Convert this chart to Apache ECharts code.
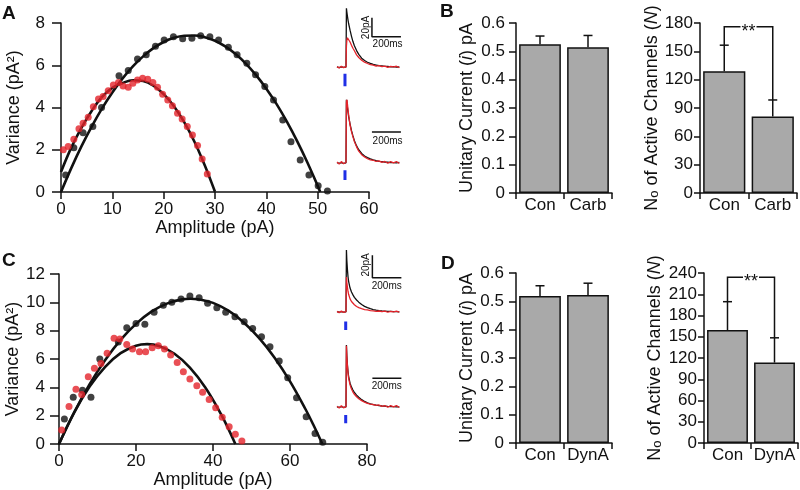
<!DOCTYPE html>
<html><head><meta charset="utf-8">
<script src="https://cdn.jsdelivr.net/npm/echarts@6/dist/echarts.min.js"></script>
<style>html,body{margin:0;padding:0;background:#fff}#c{width:800px;height:490px}</style>
</head><body><div id="c"></div>
<script>
const FONT = 'Liberation Sans, Arial, sans-serif';
// ---------- Panel A : variance vs amplitude ----------
const aCtrlPts = [[0.9,0.8],[2.5,2.1],[4.3,2.8],[6.2,3.1],[7.9,4.0],[11.3,5.5],[13.1,5.75],[14.9,6.3],[16.6,6.5],[18.4,6.9],[20.1,7.2],[21.9,7.35],[23.7,7.25],[25.5,7.28],[27.2,7.4],[29.0,7.35],[30.7,7.2],[32.6,6.85],[34.3,6.5],[36.2,6.1],[37.9,5.55],[39.7,4.99],[41.4,4.36],[43.2,3.41],[44.8,2.38],[46.6,1.52],[48.3,0.8],[50.1,0.3],[51.9,0.05]];
const aDrugPts = [[0.45,2.0],[1.4,2.15],[2.5,2.5],[3.5,3.0],[4.3,3.25],[5.3,3.54],[6.3,4.04],[7.3,4.4],[8.2,4.52],[9.2,4.79],[10.2,5.07],[11.2,5.18],[12.1,5.02],[13.1,4.96],[14.0,5.15],[14.9,5.3],[15.9,5.39],[16.9,5.34],[17.9,5.18],[18.8,4.96],[19.8,4.63],[20.8,4.36],[21.7,4.08],[22.7,3.73],[23.6,3.45],[24.6,3.1],[25.6,2.7],[26.6,2.2],[27.5,1.56],[28.5,0.85]];
const aCtrlFit = [[0,0],[2,1.13],[4,2.17],[6,3.11],[8,3.96],[10,4.71],[12,5.38],[14,5.95],[16,6.42],[18,6.81],[20,7.10],[22,7.30],[24,7.40],[26,7.41],[28,7.33],[30,7.16],[32,6.89],[34,6.53],[36,6.08],[38,5.53],[40,4.89],[42,4.16],[44,3.33],[46,2.41],[48,1.40],[50,0.29],[50.5,0]];
const aDrugFit = [[0,0.95],[2,2.1],[4,3.05],[6,3.85],[8,4.5],[10,4.93],[12,5.16],[14,5.29],[16,5.25],[18,5.03],[20,4.63],[22,4.06],[24,3.31],[26,2.38],[28,1.27],[29,0.65],[30,0.01]];
// ---------- Panel C ----------
const cCtrlPts = [[1.4,1.76],[3.7,3.3],[6.1,3.8],[8.3,3.3],[10.6,6.0],[15.4,7.2],[17.6,8.2],[20.0,8.5],[22.3,8.45],[24.7,9.3],[27.1,9.8],[29.3,10.0],[31.7,10.23],[34.0,10.44],[36.4,10.33],[38.6,9.93],[41.0,9.62],[43.3,9.3],[45.7,8.98],[48.1,8.63],[50.3,8.16],[52.6,7.57],[54.8,6.87],[57.2,5.86],[59.4,4.68],[61.7,3.27],[64.2,1.93],[66.5,0.75],[68.5,0.12]];
const cDrugPts = [[0.7,0.99],[2.6,2.64],[4.4,3.86],[5.9,3.5],[7.6,4.75],[9.2,5.34],[10.9,5.69],[12.5,6.4],[14.3,7.46],[15.8,7.41],[17.6,7.03],[19.1,6.7],[20.9,6.52],[22.5,6.52],[24.2,6.8],[25.8,6.94],[27.4,6.7],[29.0,6.28],[30.7,5.76],[32.3,5.1],[34.0,4.59],[35.8,4.12],[37.3,3.65],[39.0,3.15],[40.7,2.56],[42.4,1.88],[44.2,1.22],[45.8,0.68],[47.5,0.21]];
const cCtrlFit = [[0,0],[4,2.26],[8,4.24],[12,5.93],[16,7.35],[20,8.48],[24,9.34],[28,9.91],[32,10.21],[34.2,10.25],[36,10.22],[40,9.96],[44,9.41],[48,8.58],[52,7.47],[56,6.09],[60,4.42],[64,2.47],[66,1.39],[68.4,0]];
const cDrugFit = [[0,0],[4,2.25],[8,4.07],[12,5.45],[16,6.41],[20,6.94],[22.9,7.05],[26,6.92],[30,6.37],[34,5.39],[38,3.99],[42,2.15],[44,1.07],[45.8,0]];
// ---------- Current traces (ms, pA) ----------
const traceT  = [0,15,30,45,55,62,65,68,72,76,80,90,100,110,120,135,150,170,190,210,230,250,270,290,310,330,350,370,390,410,430];
const aTopCtrl = [0.3,-0.5,0.4,-0.3,0.5,0.2,62,58,53.5,49.5,46,39,32.5,27,22.5,17.5,13.5,9.5,7,5.2,4,3,2.3,1.6,1.3,0.9,0.8,0.4,0.5,0.1,0.2];
const aTopDrug = [0.6,-0.8,0.9,-0.5,0.7,0.3,22,28.5,31,30.5,29.5,26.5,23,20,17.3,13,10.2,7.4,5.3,3.9,2.6,2.2,1.1,1.7,0.6,1.2,-0.2,0.9,0.3,1.0,-0.4];
const aBotCtrl = [0.4,-0.3,0.5,-0.4,0.3,0.2,69,64,58.5,53.5,49,41,34,28.5,23.5,18,14,10,7.4,5.6,4.3,3.3,2.5,1.8,1.4,1.0,0.8,0.5,0.4,0.2,0.6];
const aBotDrug = [1.0,-1.2,1.5,-0.8,1.1,0.5,64,68.5,62,56,51,40,33,27.5,22.5,17,12.5,8.8,6.4,4.5,3.2,2.9,1.6,2.2,0.6,1.6,-0.3,1.4,0.2,1.6,-0.5];
const cTopCtrl = [0.2,-0.3,0.3,-0.2,0.3,0.1,54.6,45,37,31,27,21,17.5,15,12.8,10.5,8.6,6.5,4.9,3.7,2.8,2.1,1.6,1.2,0.9,0.7,0.5,0.4,0.3,0.2,0.1];
const cTopDrug = [0.5,-0.6,0.7,-0.4,0.6,0.3,30.8,26,21.5,18,15.5,11.5,9.2,7.6,6.3,4.8,3.8,2.9,2.1,1.7,1.1,1.0,0.5,0.8,0.2,0.6,-0.3,0.5,0.1,0.6,-0.2];
const cBotCtrl = [0.2,-0.4,0.3,-0.3,0.4,0.1,54.6,45,37,31,27,21,17.5,15,12.8,10.5,8.6,6.5,4.9,3.7,2.8,2.1,1.6,1.2,0.9,0.7,0.5,0.4,0.3,0.2,0.1];
const cBotDrug = [0.8,-1.0,1.1,-0.7,0.9,0.4,54,44,36,30,25.5,19.5,15.8,13.2,11.2,9.0,7.3,5.6,4.3,3.2,2.6,2.2,1.4,1.8,0.6,1.3,-0.2,1.2,0.1,1.3,-0.4];
const scaleMs = 200, scalePA = 20;
// ---------- Bar panels ----------
const catB = ['Con','Carb'];
const catD = ['Con','DynA'];
const uniMeanB = [0.525, 0.514], uniErrB = [0.029, 0.042];
const nMeanB = [129, 81], nErrB = [27.5, 17.5], bracketB = 176;
const uniMeanD = [0.519, 0.522], uniErrD = [0.036, 0.042];
const nMeanD = [159.5, 113.5], nErrD = [40, 35], bracketD = 234;

const INK = '#111', RED = '#e4232a', BLUE = '#1f2fe6', GRAY = '#a9a9a9';
const lineSt = {color: INK, width: 1.5};
const tickFont = {color: INK, fontSize: 17, fontFamily: FONT};
const nameFont = {color: INK, fontSize: 18, fontFamily: FONT};

function g(left, top, width, height){ return {left, top, width, height, containLabel:false, outerBoundsMode:'none'}; }
const grids = [
  g(61,23,308,169), g(337,4.5,65.25,85.5), g(337,100.3,65.25,85.5),
  g(516,23,96,170), g(700,23,97,170),
  g(59,274,308,170), g(337,237,65.25,102.15), g(337,332.1,65.25,102.15),
  g(516,273,96,170), g(704,273,94,170)
];
function valX(gi, max, interval, name, gap){
  return {gridIndex:gi, type:'value', min:0, max, interval,
    axisLine:{show:true, onZero:false, lineStyle:lineSt}, axisTick:{show:true, length:7, lineStyle:lineSt},
    axisLabel:Object.assign({margin:9}, tickFont), splitLine:{show:false},
    name, nameLocation:'middle', nameGap:gap, nameTextStyle:nameFont};
}
function valY(gi, max, interval, name, gap, margin, tick, fmt, rich){
  const o = {gridIndex:gi, type:'value', min:0, max, interval,
    axisLine:{show:true, onZero:false, lineStyle:lineSt}, axisTick:{show:true, length:tick, lineStyle:lineSt},
    axisLabel:Object.assign({margin}, tickFont), splitLine:{show:false},
    name, nameLocation:'middle', nameGap:gap, nameRotate:90, nameTextStyle:Object.assign({}, nameFont)};
  if (fmt) o.axisLabel.formatter = fmt;
  if (rich) o.nameTextStyle.rich = rich;
  return o;
}
function catX(gi, data){
  return {gridIndex:gi, type:'category', data, boundaryGap:true,
    axisLine:{show:true, lineStyle:lineSt}, axisTick:{show:true, length:6, lineStyle:lineSt, alignWithLabel:false, interval:0},
    axisLabel:Object.assign({margin:4, interval:0, hideOverlap:false}, tickFont), splitLine:{show:false}};
}
function hidX(gi){ return {gridIndex:gi, type:'value', min:0, max:450, show:false}; }
function hidY(gi){ return {gridIndex:gi, type:'value', min:-24, max:66, show:false}; }
const dec1 = v => v === 0 ? '0' : v.toFixed(1);
const richUni = {n:{fontSize:18, fontFamily:FONT, color:INK}, it:{fontSize:18, fontFamily:FONT, fontStyle:'italic', color:INK}};
const richN = {n:{fontSize:18, fontFamily:FONT, color:INK}, o:{fontSize:13, fontFamily:FONT, color:INK, verticalAlign:'bottom'}, it:{fontSize:18, fontFamily:FONT, fontStyle:'italic', color:INK}};
const uniName = '{n|Unitary Current (}{it|i}{n|) pA}';
const nName = '{n|N}{o|o}{n| of Active Channels (}{it|N}{n|)}';

const xAxes = [
  valX(0,60,10,'Amplitude (pA)',26), hidX(1), hidX(2), catX(3,catB), catX(4,catB),
  valX(5,80,20,'Amplitude (pA)',27), hidX(6), hidX(7), catX(8,catD), catX(9,catD)
];
const yAxes = [
  valY(0,8,2,'Variance (pA²)',38,16,9), hidY(1), hidY(2),
  valY(3,0.6,0.1,uniName,40,11,7,dec1,richUni), valY(4,180,30,nName,36,7,6,null,richN),
  valY(5,12,2,'Variance (pA²)',35,14,9), hidY(6), hidY(7),
  valY(8,0.6,0.1,uniName,40,12,7,dec1,richUni), valY(9,240,30,nName,40,7,6,null,richN)
];

const series = [];
function fit(gi, data){ series.push({type:'line', xAxisIndex:gi, yAxisIndex:gi, data, smooth:0.4, showSymbol:false, lineStyle:{color:INK, width:2.6}, z:2}); }
function pts(gi, data, color){ series.push({type:'scatter', xAxisIndex:gi, yAxisIndex:gi, data, symbolSize:7, itemStyle:{color}, z:3}); }
fit(0,aCtrlFit); fit(0,aDrugFit); pts(0,aCtrlPts,INK); pts(0,aDrugPts,RED);
fit(5,cCtrlFit); fit(5,cDrugFit); pts(5,cCtrlPts,INK); pts(5,cDrugPts,RED);

function trace(gi, arr, color){
  series.push({type:'line', xAxisIndex:gi, yAxisIndex:gi, data:traceT.map((t,i)=>[t,arr[i]]), showSymbol:false, lineStyle:{color, width:1.3}});
}
function seg(gi, data, color, width){ series.push({type:'line', xAxisIndex:gi, yAxisIndex:gi, data, showSymbol:false, lineStyle:{color, width}, z:4}); }
function txt(gi, pos, text, rot){
  series.push({type:'custom', xAxisIndex:gi, yAxisIndex:gi, data:[pos], z:5,
    renderItem:(p, api)=>{ const c = api.coord([api.value(0), api.value(1)]);
      return {type:'text', x:c[0], y:c[1], rotation: rot ? Math.PI/2 : 0,
        style:{text, fontSize:10, fontFamily:FONT, fill:INK, align:'center', verticalAlign:'middle'}}; }});
}
// A traces
trace(1,aTopCtrl,INK); trace(1,aTopDrug,RED);
seg(1,[[55,-7],[55,-20]],BLUE,3);
seg(1,[[241,32+scalePA],[241,32],[241+scaleMs,32]],INK,1.5);
txt(1,[200,41.8],'20pA',true); txt(1,[349,24.1],'200ms',false);
trace(2,aBotCtrl,INK); trace(2,aBotDrug,RED);
seg(2,[[55,-7.5],[55,-18]],BLUE,3);
seg(2,[[241,32.6],[241+scaleMs,32.6]],INK,1.5);
txt(2,[349,22.4],'200ms',false);
// C traces
trace(6,cTopCtrl,INK); trace(6,cTopDrug,RED);
seg(6,[[60,-8.5],[60,-16]],BLUE,3);
seg(6,[[244,30+scalePA],[244,30],[244+scaleMs,30]],INK,1.5);
txt(6,[200,41.4],'20pA',true); txt(6,[343,22.9],'200ms',false);
trace(7,cBotCtrl,INK); trace(7,cBotDrug,RED);
seg(7,[[60,-7],[60,-14.4]],BLUE,3);
seg(7,[[244,25.3],[244+scaleMs,25.3]],INK,1.5);
txt(7,[343,17.9],'200ms',false);

// bars
function errRender(p, api){
  const x = api.value(0), m = api.value(1), e = api.value(2);
  const a = api.coord([x,m]), b = api.coord([x,m+e]);
  const st = {stroke:INK, lineWidth:1.5};
  return {type:'group', children:[
    {type:'line', shape:{x1:a[0],y1:a[1],x2:b[0],y2:b[1]}, style:st},
    {type:'line', shape:{x1:b[0]-4.5,y1:b[1],x2:b[0]+4.5,y2:b[1]}, style:st}]};
}
function bracketRender(means, errs){
  return function(p, api){
    const yb = api.value(1);
    const a = api.coord([0, means[0]+errs[0]]), b = api.coord([1, means[1]+errs[1]]);
    const t = api.coord([0, yb])[1];
    return {type:'group', children:[
      {type:'polyline', shape:{points:[[a[0],a[1]],[a[0],t],[b[0],t],[b[0],b[1]]]}, style:{stroke:INK, lineWidth:1.5, fill:null}},
      {type:'text', x:(a[0]+b[0])/2, y:t+5, style:{text:'**', fontSize:18, fontFamily:FONT, fill:INK, align:'center', verticalAlign:'middle', backgroundColor:'#fff', padding:[0,1]}}]};
  };
}
function bars(gi, means, errs, yb){
  series.push({type:'bar', xAxisIndex:gi, yAxisIndex:gi, data:means, barWidth:'87%',
    itemStyle:{color:GRAY, borderColor:INK, borderWidth:1.5}, z:2});
  series.push({type:'custom', xAxisIndex:gi, yAxisIndex:gi, data:means.map((m,i)=>[i,m,errs[i]]), renderItem:errRender, z:3});
  if (yb !== undefined) series.push({type:'custom', xAxisIndex:gi, yAxisIndex:gi, data:[[0,yb]], renderItem:bracketRender(means,errs), z:4});
}
bars(3,uniMeanB,uniErrB); bars(4,nMeanB,nErrB,bracketB);
bars(8,uniMeanD,uniErrD); bars(9,nMeanD,nErrD,bracketD);

const letter = (t,l,tp)=>({type:'text', left:l, top:tp, style:{text:t, font:'bold 19px '+FONT, fill:INK}});
const chart = echarts.init(document.getElementById('c'));
chart.setOption({
  animation:false, backgroundColor:'#fff',
  grid:grids, xAxis:xAxes, yAxis:yAxes, series,
  graphic:[letter('A',2,4), letter('B',440,2), letter('C',2,251), letter('D',441,254)]
});
</script></body></html>
